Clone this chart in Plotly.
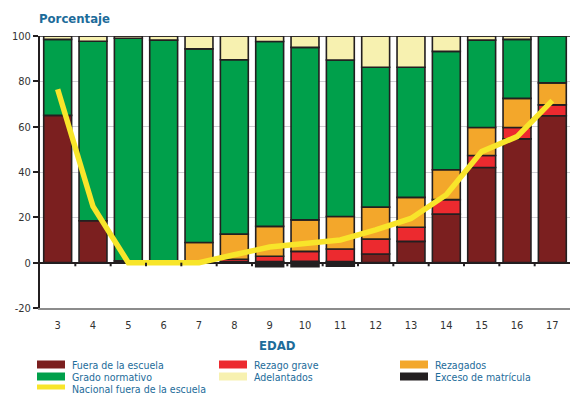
import plotly.graph_objects as go

# Ages on the x axis
edades = [3, 4, 5, 6, 7, 8, 9, 10, 11, 12, 13, 14, 15, 16, 17]

# Stacked percentages per age
fuera_escuela = [65.0, 18.5, 0.8, None, None, 0.5, 0.5, 0.6, 0.5, 3.8, 9.4, 21.4, 42.0, 54.6, 64.8]
rezago_grave = [None, None, None, None, None, 1.0, 2.3, 4.4, 5.5, 6.6, 6.2, 6.4, 5.3, 5.0, 4.8]
rezagados = [None, None, None, None, 8.9, 11.1, 13.2, 13.9, 14.4, 14.1, 13.2, 13.2, 12.3, 12.9, 9.7]
grado_normativo = [33.5, 79.2, 98.2, 98.2, 85.4, 76.9, 81.6, 76.1, 69.0, 61.7, 57.4, 52.2, 38.6, 26.0, 20.7]
adelantados = [1.5, 2.3, 1.0, 1.8, 5.7, 10.5, 2.4, 5.0, 10.6, 13.8, 13.8, 6.8, 1.8, 1.5, None]
exceso_matricula = [None, None, None, None, None, None, -1.8, -1.8, -1.6, None, None, None, None, None, None]

# National out-of-school line
nacional_fuera = [76.5, 24.8, 0.0, 0.0, 0.0, 3.5, 6.9, 8.5, 10.0, 14.5, 19.5, 30.0, 49.0, 55.6, 71.5]

y_ticks = [-20, 0, 20, 40, 60, 80, 100]
y_tick_labels = ["-20", "0", "20", "40", "60", "80", "100"]

COL_FUERA = "#7b1f1f"
COL_GRAVE = "#ec2a2f"
COL_REZ = "#f3a72b"
COL_NORM = "#00a04b"
COL_ADEL = "#f7f1b0"
COL_EXC = "#231f20"
COL_NAC = "#f8e52a"
BORDER = "#231f20"
BLUE = "#1d6c9a"
FONT = "DejaVu Sans Condensed, DejaVu Sans, sans-serif"

W, H = 570, 394
ML, MR, MT, MB = 40, 0, 36, 86
PW, PH = W - ML - MR, H - MT - MB


def px(x):
    return (x - ML) / PW


def py(y):
    return (H - MB - y) / PH


fig = go.Figure()

series = [
    ("Fuera de la escuela", fuera_escuela, COL_FUERA),
    ("Rezago grave", rezago_grave, COL_GRAVE),
    ("Rezagados", rezagados, COL_REZ),
    ("Grado normativo", grado_normativo, COL_NORM),
    ("Adelantados", adelantados, COL_ADEL),
    ("Exceso de matrícula", exceso_matricula, COL_EXC),
]
for name, vals, col in series:
    fig.add_trace(go.Bar(
        x=edades, y=vals, name=name, width=0.79,
        marker=dict(color=col, line=dict(color=BORDER, width=1.6)),
        showlegend=False,
    ))

fig.add_trace(go.Scatter(
    x=edades, y=nacional_fuera, mode="lines", name="Nacional fuera de la escuela",
    line=dict(color=COL_NAC, width=5.5), showlegend=False,
))

shapes = []
# top border at 100
shapes.append(dict(type="line", xref="paper", yref="y", x0=0, x1=1, y0=100, y1=100,
                   line=dict(color=BORDER, width=1.6), layer="above"))
# small ticks under the zero line between categories
for i in range(len(edades) - 1):
    xb = (edades[i] + edades[i + 1]) / 2
    shapes.append(dict(type="line", xref="x", yref="y", x0=xb, x1=xb, y0=0, y1=-1.6,
                       line=dict(color=BORDER, width=2), layer="above"))

# legend entries: (label, colour, column x, row y, is_line)
legend_items = [
    ("Fuera de la escuela", COL_FUERA, 37, 364.5, False),
    ("Rezago grave", COL_GRAVE, 219, 364.5, False),
    ("Rezagados", COL_REZ, 400, 364.5, False),
    ("Grado normativo", COL_NORM, 37, 376.5, False),
    ("Adelantados", COL_ADEL, 219, 376.5, False),
    ("Exceso de matrícula", COL_EXC, 400, 376.5, False),
    ("Nacional fuera de la escuela", COL_NAC, 37, 388.5, True),
]
annotations = []
for label, col, x0, yc, is_line in legend_items:
    h = 5 if is_line else 8
    yy = yc - 1.5 if is_line else yc
    shapes.append(dict(type="rect", xref="paper", yref="paper",
                       x0=px(x0), x1=px(x0 + 28), y0=py(yy - h / 2), y1=py(yy + h / 2),
                       fillcolor=col, line=dict(width=0)))
    annotations.append(dict(text=label, xref="paper", yref="paper", x=px(x0 + 33), y=py(yc),
                            xanchor="left", yanchor="middle", showarrow=False,
                            font=dict(family=FONT, size=10.5, color=BLUE)))

annotations.append(dict(text="<b>Porcentaje</b>", xref="paper", yref="paper",
                        x=px(37), y=py(18), xanchor="left", yanchor="middle", showarrow=False,
                        font=dict(family=FONT, size=13, color=BLUE)))
annotations.append(dict(text="<b>EDAD</b>", xref="paper", yref="paper",
                        x=px(277), y=py(345), xanchor="center", yanchor="middle", showarrow=False,
                        font=dict(family=FONT, size=13, color=BLUE)))

fig.update_layout(
    width=W, height=H, autosize=False,
    margin=dict(l=ML, r=MR, t=MT, b=MB, pad=0),
    barmode="relative", bargap=0.21,
    plot_bgcolor="white", paper_bgcolor="white",
    font=dict(family=FONT, size=11, color="#333333"),
    shapes=shapes, annotations=annotations,
    xaxis=dict(
        range=[2.5, 17.5], tickmode="array", tickvals=edades, ticktext=[str(e) for e in edades],
        showgrid=False, zeroline=False, showline=True, linecolor="#8c8c8c", linewidth=1.5,
        ticks="", ticklabelstandoff=6, tickfont=dict(size=11, color="#333333"),
    ),
    yaxis=dict(
        range=[-20, 100], tickmode="array", tickvals=y_ticks, ticktext=y_tick_labels,
        showgrid=True, gridcolor="#cfcfd4", gridwidth=1,
        zeroline=True, zerolinecolor=BORDER, zerolinewidth=2,
        showline=True, linecolor=BORDER, linewidth=2,
        ticks="outside", ticklen=5, tickwidth=2, tickcolor=BORDER,
        tickfont=dict(size=11, color="#333333"),
    ),
)

fig.write_html("out.html")
